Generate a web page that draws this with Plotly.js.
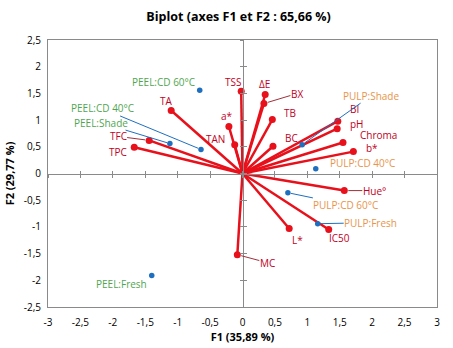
<!DOCTYPE html>
<html>
<head>
<meta charset="utf-8">
<script src="https://cdn.plot.ly/plotly-3.0.1.min.js"></script>
<style>html,body{margin:0;padding:0;background:#fff;}#chart{width:453px;height:348px;}</style>
</head>
<body>
<div id="chart"></div>
<script>
// ---- data ----
const varNames = ['TSS','ΔE','BX','TB','BC','BI','pH','Chroma','b*','Hue°','L*','IC50','MC','a*','TAN','TA','TFC','TPC'];
const varF1 = [-0.02,0.35,0.33,0.46,0.47,1.47,1.46,1.55,1.71,1.57,0.72,1.33,-0.08,-0.21,-0.12,-1.10,-1.44,-1.67];
const varF2 = [1.54,1.48,1.31,1.01,0.51,0.98,0.84,0.58,0.41,-0.32,-1.03,-1.05,-1.52,0.88,0.54,1.18,0.62,0.49];

const obsNames = ['PEEL:CD 60°C','PEEL:CD 40°C','PEEL:Shade','PEEL:Fresh','PULP:Shade','PULP:CD 40°C','PULP:CD 60°C','PULP:Fresh'];
const obsF1 = [-0.66,-0.64,-1.12,-1.40,0.92,1.13,0.70,1.16];
const obsF2 = [1.56,0.45,0.56,-1.91,0.54,0.09,-0.36,-0.94];

const xTickVals = [-3,-2.5,-2,-1.5,-1,-0.5,0,0.5,1,1.5,2,2.5,3];
const xTickText = ['-3','-2,5','-2','-1,5','-1','-0,5','0','0,5','1','1,5','2','2,5','3'];
const yTickVals = [-2.5,-2,-1.5,-1,-0.5,0,0.5,1,1.5,2,2.5];
const yTickText = ['-2,5','-2','-1,5','-1','-0,5','0','0,5','1','1,5','2','2,5'];

// ---- label placement (pixel offsets, leader flag) ----
const varLabelPos = {
  'TSS':[-8,-9,false],'ΔE':[-1,-10,false],'BX':[33,-10,true],'TB':[18,-7,false],
  'BC':[19,-8,false],'BI':[17,-12,false],'pH':[20,-5,false],'Chroma':[36,-8,false],
  'b*':[19,-4,false],'Hue°':[30,0,true],'L*':[8,11,false],'IC50':[11,8,false],
  'MC':[30,8,true],'a*':[-2,-11,false],'TAN':[-19,-6,false],'TA':[-5,-9,false],
  'TFC':[-31,-4,true],'TPC':[-16,5,false]
};
const obsLabelPos = {
  'PEEL:CD 60°C':[-36,-8,false],'PEEL:CD 40°C':[-99,-41,true],'PEEL:Shade':[-69,-21,true],
  'PEEL:Fresh':[-30,9,false],'PULP:Shade':[69,-49,true],'PULP:CD 40°C':[47,-6,false],
  'PULP:CD 60°C':[58,12,true],'PULP:Fresh':[53,-1,true]
};

const RED = '#E8101A', VARTXT = '#C0001E', BLUE = '#1F6FC0', GREEN = '#4FA64F', ORANGE = '#E8944A';
const FONT = 'Open Sans, Noto Sans, sans-serif';

// vector lines from origin
const lx = [], ly = [];
varF1.forEach((v,i)=>{ lx.push(0, v, null); ly.push(0, varF2[i], null); });

const traces = [
  {x:[null], y:[null], xaxis:'x2', yaxis:'y2', mode:'markers', showlegend:false, hoverinfo:'skip'},
  {x:[null], y:[null], xaxis:'x3', yaxis:'y3', mode:'markers', showlegend:false, hoverinfo:'skip'},
  {x: lx, y: ly, mode:'lines', line:{color:RED, width:2.5}, hoverinfo:'skip', showlegend:false},
  {x: varF1, y: varF2, mode:'markers', marker:{color:RED, size:7}, text:varNames, showlegend:false},
  {x: obsF1, y: obsF2, mode:'markers', marker:{color:BLUE, size:5.5}, text:obsNames, showlegend:false}
];

const annotations = [];
varNames.forEach((n,i)=>{
  const p = varLabelPos[n];
  const a = {x:varF1[i], y:varF2[i], xref:'x', yref:'y', text:n, borderpad:0,
    font:{family:FONT, size:10, color:VARTXT}};
  if (p[2]) { Object.assign(a,{showarrow:true, ax:p[0], ay:p[1], arrowhead:0, arrowwidth:1, arrowcolor:'#A0303A', standoff:4}); }
  else { Object.assign(a,{showarrow:false, xshift:p[0], yshift:-p[1]}); }
  annotations.push(a);
});
obsNames.forEach((n,i)=>{
  const p = obsLabelPos[n];
  const col = n.startsWith('PEEL') ? GREEN : ORANGE;
  const a = {x:obsF1[i], y:obsF2[i], xref:'x', yref:'y', text:n, borderpad:0,
    font:{family:FONT, size:10, color:col}};
  if (p[2]) { Object.assign(a,{showarrow:true, ax:p[0], ay:p[1], arrowhead:0, arrowwidth:1, arrowcolor:BLUE, standoff:3}); }
  else { Object.assign(a,{showarrow:false, xshift:p[0], yshift:-p[1]}); }
  annotations.push(a);
});

const axCommon = {showgrid:false, zeroline:false, fixedrange:true};
const layout = {
  width:453, height:348,
  margin:{l:48, r:16, t:40, b:41},
  paper_bgcolor:'#fff', plot_bgcolor:'#fff',
  font:{family:FONT, size:10, color:'#000'},
  title:{text:'<b>Biplot (axes F1 et F2 : 65,66 %)</b>', xref:'paper', x:0.49, xanchor:'center', y:0.952, yanchor:'middle',
    font:{family:FONT, size:12.5, color:'#000'}},
  xaxis: Object.assign({}, axCommon, {range:[-3,3], tickvals:xTickVals, ticktext:xTickText,
    ticks:'', showline:true, mirror:true, linecolor:'#8a8a8a', linewidth:1,
    tickfont:{family:FONT, size:10, color:'#000'}, ticklabelstandoff:6,
    title:{text:'<b>F1 (35,89 %)</b>', standoff:4, font:{family:FONT, size:11, color:'#000'}}}),
  yaxis: Object.assign({}, axCommon, {range:[-2.5,2.5], tickvals:yTickVals, ticktext:yTickText,
    ticks:'', showline:true, mirror:true, linecolor:'#8a8a8a', linewidth:1,
    tickfont:{family:FONT, size:10, color:'#000'}, ticklabelstandoff:4,
    title:{text:'<b>F2 (29,77 %)</b>', standoff:6, font:{family:FONT, size:11, color:'#000'}}}),
  xaxis2: Object.assign({}, axCommon, {overlaying:'x', range:[-3,3], anchor:'free', position:0.5,
    tickvals:xTickVals, showticklabels:false, ticks:'outside', ticklen:3, tickcolor:'#8a8a8a',
    showline:true, linecolor:'#8a8a8a', linewidth:1}),
  xaxis3: Object.assign({}, axCommon, {overlaying:'x', range:[-3,3], anchor:'free', position:0.5,
    tickvals:xTickVals, showticklabels:false, ticks:'inside', ticklen:3, tickcolor:'#8a8a8a', showline:false}),
  yaxis2: Object.assign({}, axCommon, {overlaying:'y', range:[-2.5,2.5], anchor:'free', position:0.5,
    tickvals:yTickVals, showticklabels:false, ticks:'outside', ticklen:3, tickcolor:'#8a8a8a',
    showline:true, linecolor:'#8a8a8a', linewidth:1}),
  yaxis3: Object.assign({}, axCommon, {overlaying:'y', range:[-2.5,2.5], anchor:'free', position:0.5,
    tickvals:yTickVals, showticklabels:false, ticks:'inside', ticklen:3, tickcolor:'#8a8a8a', showline:false}),
  annotations: annotations
};
Plotly.newPlot('chart', traces, layout, {displayModeBar:false, staticPlot:true});
</script>
</body>
</html>
